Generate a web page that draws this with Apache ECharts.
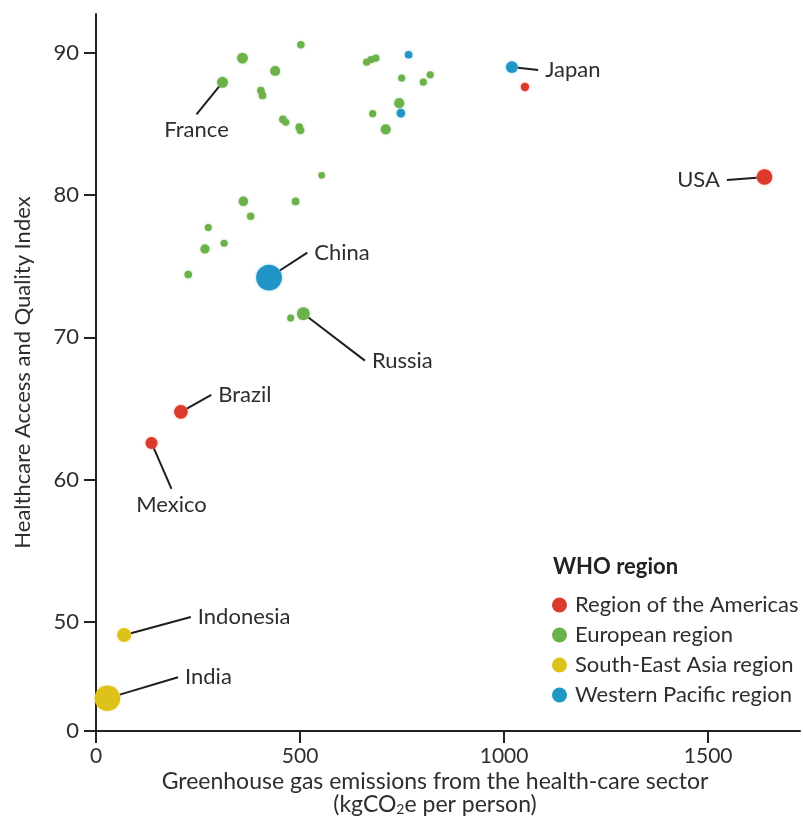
<!DOCTYPE html>
<html>
<head>
<meta charset="utf-8">
<script src="https://cdn.jsdelivr.net/npm/echarts@6/dist/echarts.min.js"></script>
<style>
html,body{margin:0;padding:0;background:#fff;}
#chart{width:803px;height:838px;}
</style>
</head>
<body>
<div id="chart"></div>
<script>
// ---- data ----
const regions = ['Region of the Americas', 'European region', 'South-East Asia region', 'Western Pacific region'];

const countries = [
  'USA', 'Brazil', 'Mexico', '',
  'France', 'Russia', '', '', '', '', '', '', '', '', '', '', '', '', '', '', '', '', '', '', '', '', '', '', '', '', '', '', '',
  'Indonesia', 'India',
  'China', 'Japan', '', ''
];
const regionIndex = [
  0, 0, 0, 0,
  1, 1, 1, 1, 1, 1, 1, 1, 1, 1, 1, 1, 1, 1, 1, 1, 1, 1, 1, 1, 1, 1, 1, 1, 1, 1, 1, 1, 1,
  2, 2,
  3, 3, 3, 3
];
// greenhouse gas emissions from health-care sector (kgCO2e per person)
const emissions = [
  1638, 208, 136, 1051,
  310, 508, 502, 359, 439, 404, 408, 458, 465, 498, 501, 663, 674, 686, 678, 710, 749, 819, 802, 743, 553, 361, 489, 379, 275, 267, 314, 226, 477,
  69, 28,
  424, 1019, 766, 747
];
// Healthcare Access and Quality Index
const haq = [
  81.25, 64.76, 62.58, 87.57,
  87.9, 71.66, 90.54, 89.6, 88.7, 87.33, 86.98, 85.3, 85.1, 84.76, 84.53, 89.32, 89.49, 89.6, 85.7, 84.6, 88.2, 88.43, 87.92, 86.44, 81.37, 79.54, 79.54, 78.5, 77.7, 76.2, 76.6, 74.4, 71.35,
  49.09, 44.65,
  74.19, 88.97, 89.84, 85.74
];
// population (millions)
const population = [
  331, 212, 128, 20,
  90, 170, 8, 83, 60, 9, 10, 10, 5, 10, 10, 5, 5, 5, 5, 60, 5, 5, 6, 60, 2, 45, 10, 8, 4, 38, 5, 10, 4,
  230, 1380,
  1400, 126, 10, 25
];
const xTicks = [0, 500, 1000, 1500];
const yTicks = [0, 50, 60, 70, 80, 90];

// ---- styling ----
const FONT = 'Lato';
const TEXT = '#2e2e2e';
const colors = ['#dc3a2c', '#6cb24a', '#dec21c', '#1f96c6'];
const labelOffset = {
  USA: [-66, 3], Brazil: [64, -17], Mexico: [20, 62], France: [-26, 48], Russia: [99, 47],
  Indonesia: [120, -18], India: [101, -21], China: [73, -25], Japan: [61, 3]
};

const series = regions.map((r, ri) => {
  const data = [];
  countries.forEach((c, i) => {
    if (regionIndex[i] !== ri) return;
    const item = { name: c, value: [emissions[i], haq[i], population[i]] };
    if (c) {
      item.label = { show: true };
      item.labelLine = { show: true };
    }
    data.push(item);
  });
  return {
    name: r,
    type: 'scatter',
    data: data,
    symbol: 'circle',
    symbolSize: v => 6 + 0.53 * Math.sqrt(v[2]),
    itemStyle: { color: colors[ri], opacity: 1, shadowBlur: 3, shadowColor: colors[ri] + '66' },
    label: {
      show: false, position: 'inside', formatter: '{b}',
      color: TEXT, fontFamily: FONT, fontSize: 22, padding: [5, 7],
      backgroundColor: 'rgba(255,255,255,0)'
    },
    labelLine: { show: false, lineStyle: { color: '#1e1e1e', width: 2 } },
    labelLayout: p => {
      const o = labelOffset[p.text] || [0, 0];
      return { dx: o[0], dy: o[1] };
    },
    emphasis: { disabled: true }
  };
});

const chart = echarts.init(document.getElementById('chart'));
chart.setOption({
  backgroundColor: '#fff',
  animation: false,
  textStyle: { fontFamily: FONT },
  title: {
    text: 'WHO region', left: 553, top: 556, padding: 0,
    textStyle: { fontFamily: FONT, fontSize: 22, fontWeight: 'bold', color: '#222' }
  },
  legend: {
    data: regions, orient: 'vertical', left: 552, top: 594, padding: 0,
    icon: 'circle', itemWidth: 15, itemHeight: 15, itemGap: 8,
    textStyle: { fontFamily: FONT, fontSize: 22, color: TEXT, padding: [0, 0, 0, 3] }
  },
  grid: { left: 96, right: 3, top: 14, bottom: 107, containLabel: false },
  xAxis: {
    type: 'value', min: 0, max: 1725,
    name: 'Greenhouse gas emissions from the health-care sector\n{t|(kgCO}{s|2}{t|e per person)}',
    nameLocation: 'middle', nameGap: 39, nameMoveOverlap: false,
    nameTextStyle: {
      fontFamily: FONT, fontSize: 23, color: TEXT, lineHeight: 23, padding: [0, 26, 0, 0],
      rich: {
        t: { fontFamily: FONT, fontSize: 23, color: TEXT, lineHeight: 23 },
        s: { fontFamily: FONT, fontSize: 14, color: TEXT, padding: [10, 0, 0, 0] }
      }
    },
    axisLine: { lineStyle: { color: '#222', width: 2 } },
    axisTick: { customValues: xTicks, length: 12, lineStyle: { color: '#222', width: 2 } },
    axisLabel: { customValues: xTicks, margin: 15, fontFamily: FONT, fontSize: 21, color: TEXT, formatter: v => String(v) },
    splitLine: { show: false }
  },
  yAxis: {
    type: 'value', min: 0, max: 92.7,
    breaks: [{ start: 0, end: 42.35, gap: 0 }],
    breakArea: { show: false },
    name: 'Healthcare Access and Quality Index',
    nameLocation: 'middle', nameGap: 62, nameMoveOverlap: false,
    nameTextStyle: { fontFamily: FONT, fontSize: 22, color: TEXT },
    axisLine: { lineStyle: { color: '#222', width: 2 } },
    axisTick: { customValues: yTicks, length: 12, lineStyle: { color: '#222', width: 2 } },
    axisLabel: { customValues: yTicks, margin: 17, fontFamily: FONT, fontSize: 22, color: TEXT, formatter: v => String(v) },
    splitLine: { show: false }
  },
  series: series
});
</script>
</body>
</html>
